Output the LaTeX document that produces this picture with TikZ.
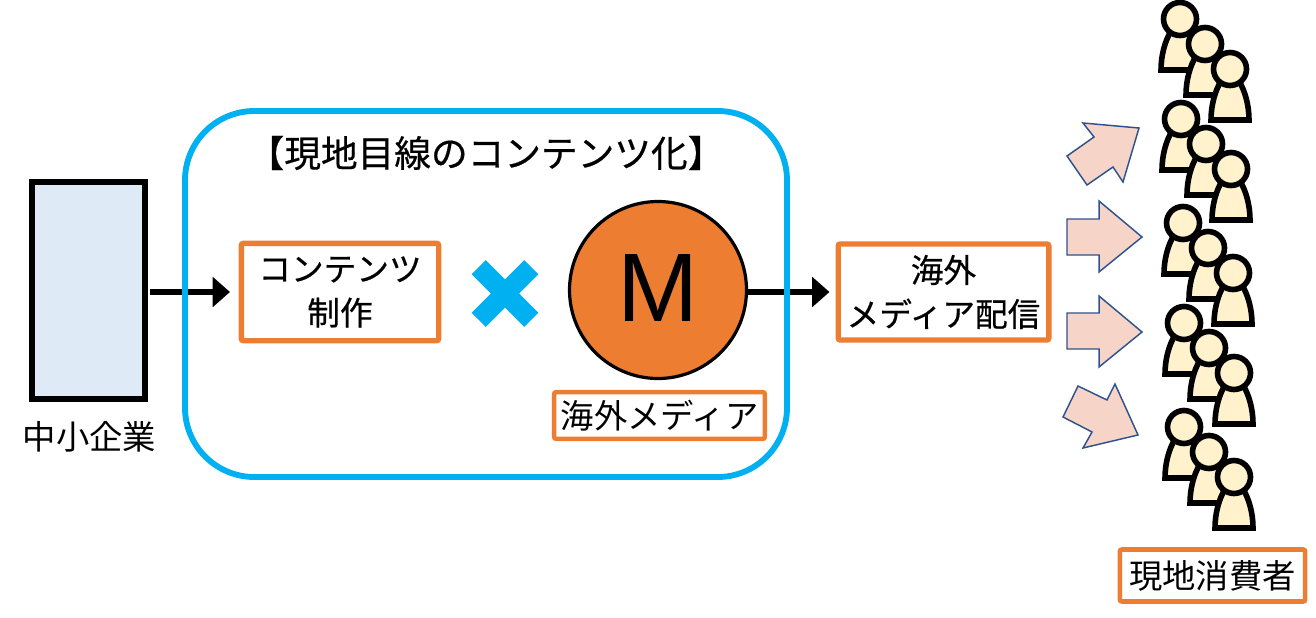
\documentclass[tikz,border=0pt]{standalone}
\usepackage{fontspec}
\setmainfont{Noto Sans CJK JP}
\newfontfamily\medfont[FakeBold=0.5]{Noto Sans CJK JP}
\newfontfamily\latinfont{Liberation Sans}
\usepackage{xcolor}
\definecolor{skyline}{RGB}{0,176,240}
\definecolor{orangeline}{RGB}{237,125,49}
\definecolor{paleblue}{RGB}{222,235,247}
\definecolor{paleskin}{RGB}{255,242,204}
\definecolor{palepink}{RGB}{246,212,200}
\definecolor{arrowblue}{RGB}{47,82,143}
\usetikzlibrary{shapes,arrows.meta,positioning,calc}

\begin{document}
\begin{tikzpicture}[
    x=0.75pt, y=-0.75pt,
    labelbox/.style={rectangle, draw=orangeline, fill=white, line width=4pt, rounded corners=1.5pt, inner sep=0pt, align=center, font=\fontsize{25}{33}\selectfont},
    flow/.style={-{Triangle[length=13pt,width=22pt]}, line width=4.5pt, black},
    blockarrow/.style={draw=arrowblue, fill=palepink, line width=1.1pt, line join=miter},
    person/.pic={
        \draw[fill=paleskin, line width=4.2pt] (-19,51) -- (19,51) .. controls (19,36) and (15,22) .. (9,12) -- (-9,12) .. controls (-15,22) and (-19,36) .. (-19,51) -- cycle;
        \draw[fill=paleskin, line width=4.2pt] (0,0) circle (16.5);
    },
    crowd/.pic={
        \pic at (0,0) {person};
        \pic at (25,25) {person};
        \pic at (50,50) {person};
    }
]
\useasboundingbox (0,0) rectangle (1316,617);

% Company
\node[rectangle, draw=black, fill=paleblue, line width=4.8pt, inner sep=0pt, minimum width=84.5pt, minimum height=162.5pt] (sme) at (88.5,290.5) {};
\node[font=\fontsize{25}{31}\selectfont] (smelabel) at (89.5,437) {中小企業};

% Localised content
\node[font=\fontsize{27.5}{31}\selectfont\medfont] (localtitle) at (486,153) {【現地目線のコンテンツ化】};
\node[labelbox, font=\fontsize{24.5}{33}\selectfont\medfont, minimum width=148pt, minimum height=73pt] (content) at (340,292) {コンテンツ\\制作};
\node[cross out, draw=skyline, line width=15pt, outer sep=0pt, inner sep=0pt, minimum size=39.5pt] (times) at (505,293.5) {};
\node[circle, draw=black, fill=orangeline, line width=2.4pt, minimum size=132.75pt, inner sep=0pt, font=\fontsize{73}{73}\selectfont\latinfont] (media) at (658,290) {\raisebox{3pt}{M}};
\node[labelbox, line width=3.4pt, minimum width=158pt, minimum height=35pt] (medialabel) at (659.5,415.5) {海外メディア};

% Distribution
\node[labelbox, font=\fontsize{24.5}{33}\selectfont\medfont, minimum width=158pt, minimum height=72pt] (delivery) at (943.5,292) {海外\\メディア配信};

% Arrows
\draw[flow, shorten <=1.5pt, shorten >=6.5pt] (sme.east |- content.west) -- (content.west);
\draw[flow, shorten >=4.5pt] (media.east |- delivery.west) -- (delivery.west);

% Frame
\node[rectangle, draw=skyline, line width=4.4pt, rounded corners=52pt, minimum width=451.5pt, minimum height=274.5pt, inner sep=0pt] (localbox) at (486,294) {};

% Block arrows
\draw[blockarrow] (1083,123) -- (1139,128) -- (1123,182) -- (1113,167) -- (1087,185) -- (1067,156) -- (1094,137) -- cycle;
\draw[blockarrow] (1067,219) -- (1099,219) -- (1099,201) -- (1142,237) -- (1099,272) -- (1099,255) -- (1067,255) -- cycle;
\draw[blockarrow] (1067,313) -- (1099,313) -- (1099,296) -- (1142,332) -- (1099,367) -- (1099,349) -- (1067,349) -- cycle;
\draw[blockarrow] (1115,384) -- (1138,435) -- (1083,448) -- (1092,432) -- (1063,417) -- (1078,386) -- (1107,400) -- cycle;

% Consumers
\pic (crowda) at (1180,19) {crowd};
\pic (crowdb) at (1181,119) {crowd};
\pic (crowdc) at (1183,223) {crowd};
\pic (crowdd) at (1184,323) {crowd};
\pic (crowde) at (1184,427) {crowd};
\node[labelbox, line width=3.4pt, minimum width=139pt, minimum height=39pt] (consumers) at (1212.5,575.5) {現地消費者};
\end{tikzpicture}
\end{document}
